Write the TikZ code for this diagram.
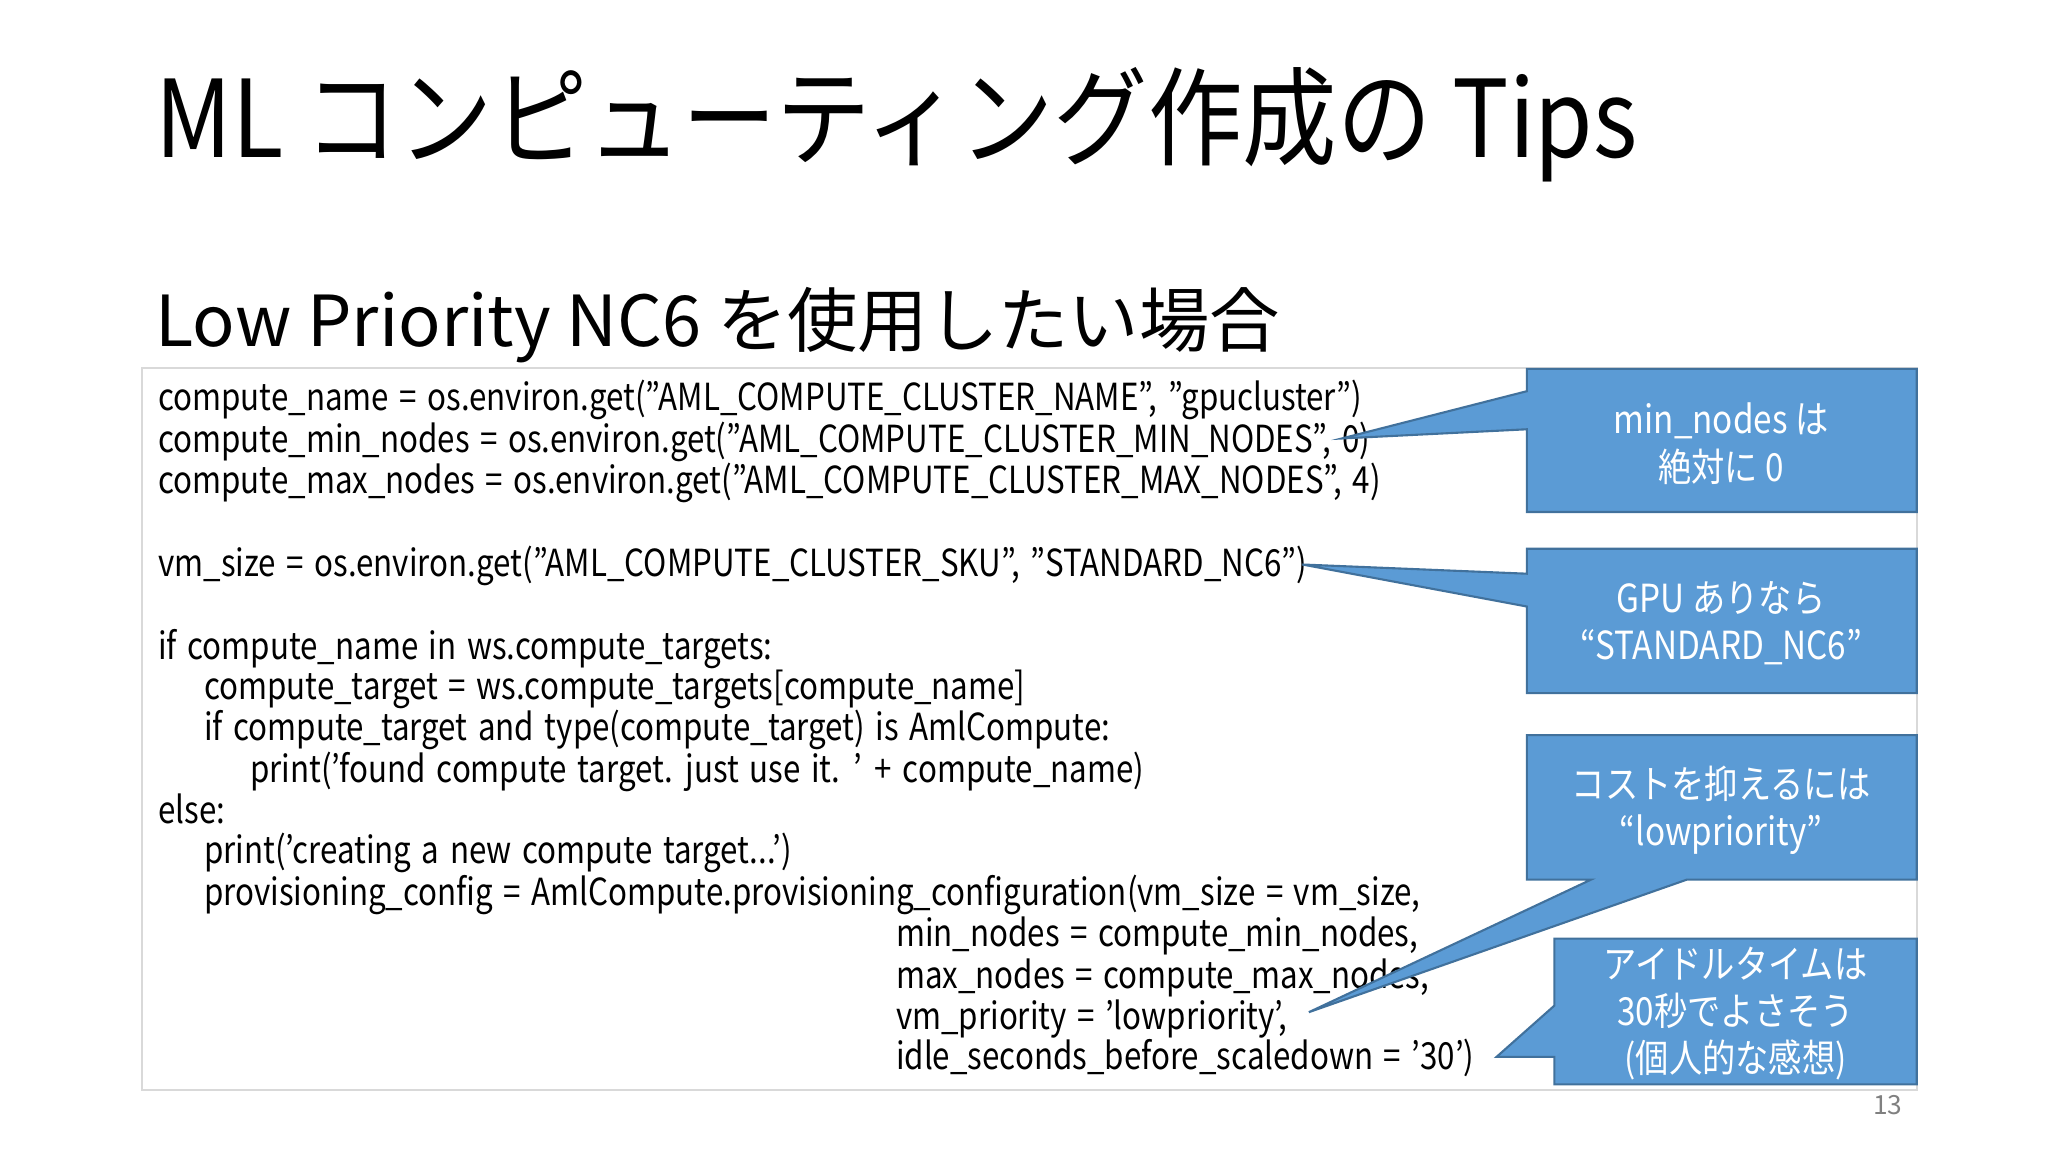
\documentclass[tikz,border=0pt]{standalone}
\usepackage{fontspec}
\setmainfont{Noto Sans CJK JP}
\newfontfamily\codefont[FakeStretch=0.84,WordSpace=1.5]{Noto Sans CJK JP}
\newfontfamily\narrowfont[FakeStretch=0.86]{Noto Sans CJK JP}
\newfontfamily\titlefont[FakeStretch=0.88]{Noto Sans CJK JP}
\definecolor{cblue}{HTML}{5B9BD5}
\definecolor{cedge}{HTML}{41719C}
\begin{document}
\begin{tikzpicture}[x=0.013128cm,y=-0.013128cm,
  code/.style={anchor=base west,inner sep=0pt,font=\codefont\fontsize{10.6}{12}\selectfont},
  callout/.style={fill=cblue,draw=cedge,line width=0.6pt},
  ctext/.style={text=white,align=center,font=\narrowfont\fontsize{11}{13.4}\selectfont,inner sep=0pt}]
\useasboundingbox (0,0) rectangle (1560,878);
\node[anchor=base west,inner sep=0pt,font=\titlefont\fontsize{30.5}{34}\selectfont] (title) at (118,120) {ML コンピューティング作成の Tips};
\node[anchor=base west,inner sep=0pt,font=\fontsize{20}{24}\selectfont] (sub) at (118,264) {Low Priority NC6 を使用したい場合};
\draw[draw=black!15,line width=0.6pt] (108,280) rectangle (1460,830);
\node[code] (l1) at (120,313) {compute\_name = os.environ.get(”AML\_COMPUTE\_CLUSTER\_NAME”, ”gpucluster”)};
\node[code] (l2) at (120,345) {compute\_min\_nodes = os.environ.get(”AML\_COMPUTE\_CLUSTER\_MIN\_NODES”, 0)};
\node[code] (l3) at (120,376) {compute\_max\_nodes = os.environ.get(”AML\_COMPUTE\_CLUSTER\_MAX\_NODES”, 4)};
\node[code] (l4) at (120,439) {vm\_size = os.environ.get(”AML\_COMPUTE\_CLUSTER\_SKU”, ”STANDARD\_NC6”)};
\node[code] (l5) at (120,502) {if compute\_name in ws.compute\_targets:};
\node[code] (l6) at (155,533) {compute\_target = ws.compute\_targets[compute\_name]};
\node[code] (l7) at (155,564) {if compute\_target and type(compute\_target) is AmlCompute:};
\node[code] (l8) at (190,596) {print(’found compute target. just use it. ’ + compute\_name)};
\node[code] (l9) at (120,627) {else:};
\node[code] (l10) at (155,658) {print(’creating a new compute target...’)};
\node[code] (l11) at (155,690) {provisioning\_config = AmlCompute.provisioning\_configuration(vm\_size = vm\_size,};
\node[code] (l12) at (682,721) {min\_nodes = compute\_min\_nodes,};
\node[code] (l13) at (682,753) {max\_nodes = compute\_max\_nodes,};
\node[code] (l14) at (682,784) {vm\_priority = ’lowpriority’,};
\node[code] (l15) at (682,815) {idle\_seconds\_before\_scaledown = ’30’)};
% callouts
\draw[callout] (1163,281) -- (1460,281) -- (1460,390) -- (1163,390) -- (1163,327) -- (1022,334) -- (1163,298) -- cycle;
\draw[callout] (1163,418) -- (1460,418) -- (1460,528) -- (1163,528) -- (1163,462) -- (992,430) -- (1163,437) -- cycle;
\draw[callout] (1163,560) -- (1460,560) -- (1460,670) -- (1285,670) -- (997,771) -- (1212,670) -- (1163,670) -- cycle;
\draw[callout] (1184,715) -- (1460,715) -- (1460,826) -- (1184,826) -- (1184,805) -- (1140,805) -- (1184,766) -- cycle;
\node[ctext] (c1) at (1311,338) {min\_nodes は\\絶対に 0};
\node[ctext] (c2) at (1311,475) {GPU ありなら\\“STANDARD\_NC6”};
\node[ctext] (c3) at (1311,617) {コストを抑えるには\\“lowpriority”};
\node[ctext] (c4) at (1322,772) {アイドルタイムは\\30秒でよさそう\\(個人的な感想)};
\node[text=black!50,font=\fontsize{7.5}{9}\selectfont] (pg) at (1438,842) {13};
\end{tikzpicture}
\end{document}
